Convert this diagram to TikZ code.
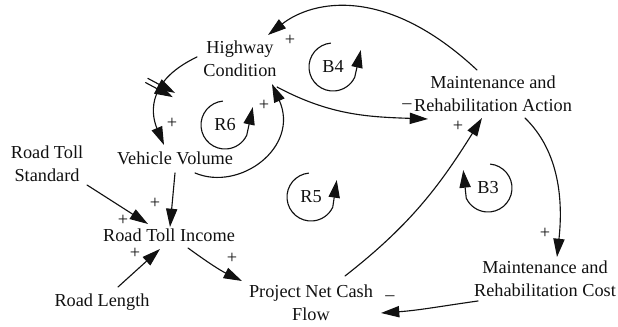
\documentclass[tikz,border=0pt]{standalone}
\usepackage{fontspec}
\setmainfont{Liberation Serif}
\usepackage{tikz}
\usetikzlibrary{calc,arrows.meta,decorations.markings}
\definecolor{ink}{HTML}{111111}
\tikzset{
  var/.style={text=ink, font=\fontsize{13}{16.4}\selectfont, align=center, inner sep=0pt},
  link/.style={draw=ink, line width=0.8pt, line cap=round, -{Triangle[length=13pt,width=8pt]}},
  pol/.style={text=ink, font=\fontsize{13}{14}\selectfont, inner sep=0pt},
  loopname/.style={text=ink, font=\fontsize{13}{14}\selectfont, inner sep=0pt},
  looparrow/.style={draw=ink, line width=0.8pt, -{Triangle[length=12.5pt,width=8pt]}},
  delaymark/.style={postaction={decorate}, decoration={markings,
      mark=at position #1 with {\draw[ink, line width=0.8pt] (-1.7pt,-11pt) -- (-1.7pt,11pt);
                                \draw[ink, line width=0.8pt] (1.7pt,-11pt) -- (1.7pt,11pt);}}},
}
\begin{document}
\begin{tikzpicture}[x=0.025cm, y=0.025cm]
  \useasboundingbox (0,0) rectangle (618,327);
  % variables
  \node[var] (hc)   at (240,268) {Highway\\Condition};
  \node[var] (mra)  at (493,233) {Maintenance and\\Rehabilitation Action};
  \node[var] (vv)   at (175,169) {Vehicle Volume};
  \node[var] (rts)  at (47,163)  {Road Toll\\Standard};
  \node[var] (rti)  at (169,92)  {Road Toll Income};
  \node[var] (rl)   at (102,25)  {Road Length};
  \node[var] (pncf) at (311,24)  {Project Net Cash\\Flow};
  \node[var] (mrc)  at (545,48)  {Maintenance and\\Rehabilitation Cost};
  % loop names
  \node[loopname] (b4) at (333,260) {B4};
  \node[loopname] (r6) at (225,202) {R6};
  \node[loopname] (r5) at (311,130) {R5};
  \node[loopname] (b3) at (488,139) {B3};
  % causal links
  \draw[link] ($(mra)+(-16,24)$) .. controls (386,342) and (313,327) .. ($(hc)+(28,24)$);
  \draw[link, delaymark=0.45] ($(hc)+(-43,2)$) .. controls (142,244) and (153,208) .. ($(vv)+(-11,13)$);
  \draw[link] ($(vv)+(20,-15)$) .. controls (240,135) and (300,180) .. ($(hc)+(32,-25)$);
  \draw[link] ($(hc)+(37,-28)$) to[out=-28, in=178] ($(mra)+(-65,-25)$);
  \draw[link] ($(pncf)+(34,27)$) to[out=38, in=238] ($(mra)+(-11,-24)$);
  \draw[link] ($(mra)+(32,-24)$) .. controls (560,175) and (563,125) .. ($(mrc)+(12,22)$);
  \draw[link] ($(mrc)+(-67,-22)$) to[out=188, in=4] ($(pncf)+(70,-10)$);
  \draw[link] ($(rts)+(40,-21)$) -- ($(rti)+(-21,11)$);
  \draw[link] ($(vv)+(0,-15)$) -- ($(rti)+(1,8)$);
  \draw[link] ($(rl)+(16,15)$) -- ($(rti)+(-9,-14)$);
  \draw[link] ($(rti)+(19,-13)$) to[out=-36, in=154] ($(pncf)+(-69,22)$);
  % polarities
  \node[pol] at (290,287) {+};
  \node[pol] at (172,204) {+};
  \node[pol] at (264,222) {+};
  \node[pol] at (407,221) {–};
  \node[pol] at (458,201) {+};
  \node[pol] at (545,94)  {+};
  \node[pol] at (390,29)  {–};
  \node[pol] at (155,124) {+};
  \node[pol] at (123,107) {+};
  \node[pol] at (135,74)  {+};
  \node[pol] at (232,69)  {+};
  % loop arrows
  \draw[looparrow] ($(b4)+(95:0.6cm)$) arc[start angle=95, end angle=335, radius=0.6cm] -- ++(6,27);
  \draw[looparrow] ($(r6)+(95:0.6cm)$) arc[start angle=95, end angle=335, radius=0.6cm] -- ++(6,28);
  \draw[looparrow] ($(r5)+(95:0.6cm)$) arc[start angle=95, end angle=335, radius=0.6cm] -- ++(4,27);
  \draw[looparrow] ($(b3)+(85:0.6cm)$) arc[start angle=85, end angle=-155, radius=0.6cm] -- ++(-3,28);
\end{tikzpicture}
\end{document}
